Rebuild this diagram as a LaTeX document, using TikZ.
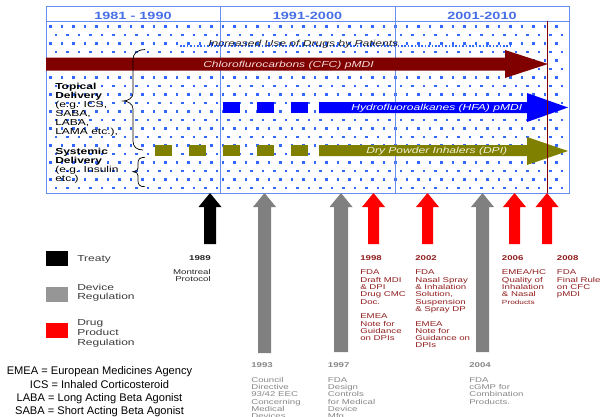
\documentclass[tikz,border=0pt]{standalone}
\usepackage{fontspec}
\setmainfont{Liberation Sans}
\usepackage{tikz}

\definecolor{frameblue}{RGB}{105,140,240}
\definecolor{hdrblue}{RGB}{70,110,230}
\definecolor{dotblue}{RGB}{50,105,250}
\definecolor{cfcred}{RGB}{128,0,0}
\definecolor{cfctext}{RGB}{245,220,220}
\definecolor{hfablue}{RGB}{0,0,255}
\definecolor{dpiolive}{RGB}{128,128,0}
\definecolor{dpitext}{RGB}{240,240,215}
\definecolor{regred}{RGB}{255,0,0}
\definecolor{reggray}{RGB}{128,128,128}
\definecolor{keygray}{RGB}{150,150,150}
\definecolor{keytext}{RGB}{60,60,60}
\definecolor{labred}{RGB}{145,30,30}
\definecolor{labgray}{RGB}{135,135,135}

\tikzset{
  hdr/.style={inner sep=0pt, xscale=1.38, anchor=base, text=hdrblue,
    font=\bfseries\fontsize{10.5}{12}\selectfont},
  arrtxt/.style={inner sep=0pt, xscale=1.38, anchor=base west,
    font=\itshape\fontsize{8.75}{10}\selectfont},
  side/.style={inner sep=0pt, xscale=1.38, align=left, anchor=north west,
    font=\fontsize{8.7}{9}\selectfont},
  key/.style={inner sep=0pt, xscale=1.38, align=left, text=keytext,
    font=\fontsize{8.7}{9.6}\selectfont},
  evt/.style={inner sep=0pt, xscale=1.38, align=left, anchor=north west,
    font=\fontsize{7}{7.3}\selectfont},
}

\begin{document}
\begin{tikzpicture}[x=1pt,y=-1pt]
  \useasboundingbox (0,0) rectangle (601,416);
  \clip (0,0) rectangle (601,416);

  %% dotted background
  \foreach \j in {0,...,19}{
    \pgfmathsetmacro\dy{25+8.5*\j}
    \pgfmathsetmacro\dx{49+5.75*mod(\j,2)}
    \foreach \i in {0,...,44}
      \fill[dotblue] (\dx+11.5*\i,\dy) rectangle ++(2.6,2.6);
  }
  \draw[dotblue, line width=1.6pt, dash pattern=on 1.6pt off 1.8pt] (180,45.7) -- (512,45.7);

  %% frame
  \draw[frameblue, line width=0.9pt] (46,6) rectangle (569,193);
  \draw[frameblue, line width=0.9pt] (46,21) -- (569,21);
  \draw[frameblue, line width=0.9pt] (220,6) -- (220,193);
  \draw[frameblue, line width=0.9pt] (395,6) -- (395,193);
  \node[hdr] (decA) at (133,19.3) {1981 - 1990};
  \node[hdr] (decB) at (307.5,19.3) {1991-2000};
  \node[hdr] (decC) at (482,19.3) {2001-2010};

  %% technologies
  \fill[cfcred] (46,57.5) -- (505,57.5) -- (505,50) -- (548,64) -- (505,78) -- (505,70.5) -- (46,70.5) -- cycle;
  \foreach \x in {223,257,291}
    \fill[hfablue] (\x,102) rectangle ++(17,11);
  \fill[hfablue] (319,102) -- (527,102) -- (527,93) -- (568,107.5) -- (527,122) -- (527,113) -- (319,113) -- cycle;
  \foreach \x in {155,189,223,257,291}
    \fill[dpiolive] (\x,145) rectangle ++(17,11);
  \fill[dpiolive] (319,145) -- (527,145) -- (527,137) -- (568,151) -- (527,165) -- (527,156) -- (319,156) -- cycle;
  \draw[cfcred, line width=0.9pt] (547,21) -- (547,193);

  \node[arrtxt, text=black!85] (incr) at (208,46) {Increased Use of Drugs by Patients};
  \node[arrtxt, text=cfctext] (cfc) at (203,67.5) {Chloroflurocarbons (CFC) pMDI};
  \node[arrtxt, text=white] (hfa) at (351,110) {Hydrofluoroalkanes (HFA) pMDI};
  \node[arrtxt, text=dpitext] (dpi) at (366,153) {Dry Powder Inhalers (DPI)};

  %% delivery
  \node[side] (topical) at (55,82.8) {\textbf{Topical}\\\textbf{Delivery}\\(e.g. ICS,\\SABA,\\LABA,\\LAMA etc.),};
  \node[side] (systemic) at (55,147.8) {\textbf{Systemic}\\\textbf{Delivery}\\(e.g. Insulin\\etc.)};
  \draw[line width=0.7pt] (145,49.5) .. controls (137,50) and (133,53) .. (133,60) -- (133,93)
    .. controls (133,98) and (128,101) .. (123,101) .. controls (128,101) and (133,104) .. (133,109)
    -- (133,141) .. controls (133,147) and (137,150) .. (143,150);
  \draw[line width=0.7pt] (145,157.3) .. controls (140,157.3) and (138,159) .. (138,163) -- (138,168)
    .. controls (138,170.5) and (136,171.7) .. (133,171.7) .. controls (136,171.7) and (138,173) .. (138,175.5)
    -- (138,181) .. controls (138,185) and (140,186.7) .. (145,186.7);

  %% regulation events
  \foreach \cx/\hw/\bot/\col in {210/6/244/black, 264.5/6.5/353/reggray, 341/7/352/reggray,
      373.5/5.5/244/regred, 427.5/5.5/244/regred, 482.5/6.5/352/reggray,
      514.5/5.5/244/regred, 547/5/244/regred}
    \fill[\col] (\cx-\hw,\bot) -- (\cx-\hw,207) -- (\cx-11.5,207) -- (\cx,193)
      -- (\cx+11.5,207) -- (\cx+\hw,207) -- (\cx+\hw,\bot) -- cycle;

  \node[evt, text=black!85, align=right, anchor=north east] (ev89) at (211,255.3) {\textbf{1989}\\[7pt]Montreal\\Protocol};
  \node[evt, text=labred] (ev98) at (360,255.3) {\textbf{1998}\\[7.3pt]FDA\\Draft MDI\\\& DPI\\Drug CMC\\Doc.\\[7.3pt]EMEA\\Note for\\Guidance\\on DPIs};
  \node[evt, text=labred] (ev02) at (415,255.3) {\textbf{2002}\\[7.3pt]FDA\\Nasal Spray\\\& Inhalation\\Solution,\\Suspension\\\& Spray DP\\[7.3pt]EMEA\\Note for\\Guidance on\\DPIs};
  \node[evt, text=labred] (ev06) at (501.7,255.3) {\textbf{2006}\\[7.3pt]EMEA/HC\\Quality of\\Inhalation\\\& Nasal\\{\fontsize{6}{7}\selectfont Products}};
  \node[evt, text=labred] (ev08) at (556.7,255.3) {\textbf{2008}\\[7.3pt]FDA\\Final Rule\\on CFC\\pMDI};
  \node[evt, text=labgray] (ev93) at (251,362.7) {\textbf{1993}\\[7pt]Council\\Directive\\93/42 EEC\\Concerning\\Medical\\Devices};
  \node[evt, text=labgray] (ev97) at (327.7,362.7) {\textbf{1997}\\[7pt]FDA\\Design\\Controls\\for Medical\\Device\\Mfg.};
  \node[evt, text=labgray] (ev04) at (469,362.7) {\textbf{2004}\\[7pt]FDA\\cGMP for\\Combination\\Products.};

  %% key
  \fill[black] (46,251) rectangle (68,266);
  \fill[keygray] (46,287) rectangle (68,302);
  \fill[regred] (46,323) rectangle (68,338);
  \node[key, anchor=base west] (treaty) at (77,261.7) {Treaty};
  \node[key, anchor=north west] (devreg) at (77,283.8) {Device\\Regulation};
  \node[key, anchor=north west] (drugreg) at (77,319.8) {Drug\\Product\\Regulation};
  \node[inner sep=0pt, align=center, anchor=north, font=\fontsize{11.1}{13.1}\selectfont] (abbrev) at (99.5,366.7)
    {EMEA = European Medicines Agency\\ICS = Inhaled Corticosteroid\\LABA = Long Acting Beta Agonist\\SABA = Short Acting Beta Agonist};
\end{tikzpicture}
\end{document}
